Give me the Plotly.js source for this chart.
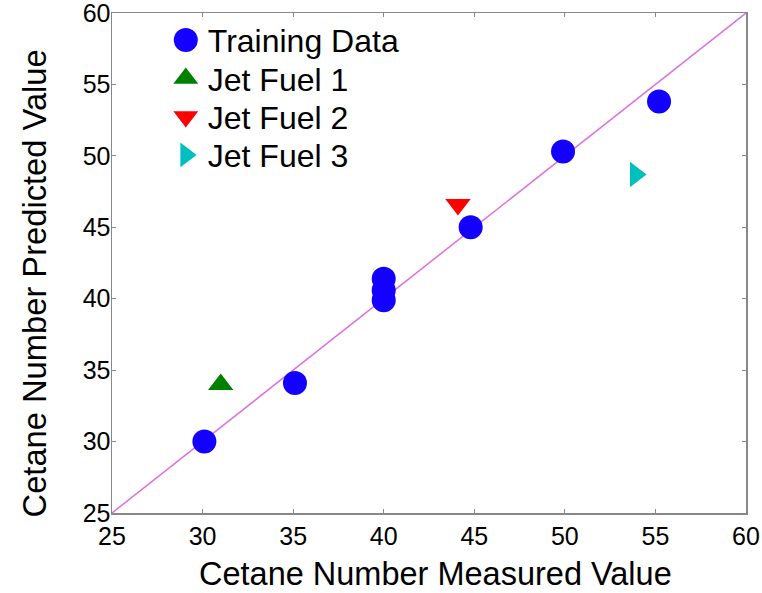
<!DOCTYPE html>
<html>
<head>
<meta charset="utf-8">
<script src="https://cdn.plot.ly/plotly-3.0.1.min.js"></script>
<style>html,body{margin:0;padding:0;background:#fff;}#chart{width:762px;height:593px;}</style>
</head>
<body>
<div id="chart"></div>
<script>
const trainX = [30.1, 35.1, 40.0, 40.0, 40.0, 44.8, 49.9, 55.2];
const trainY = [30.0, 34.1, 39.9, 40.6, 41.4, 45.0, 50.3, 53.8];
const jet1X = [31.0], jet1Y = [34.0];
const jet2X = [44.1], jet2Y = [46.6];
const jet3X = [53.9], jet3Y = [48.7];
const lineX = [25, 60], lineY = [25, 60];

const data = [
  {x: lineX, y: lineY, mode: 'lines', line: {color: '#dd70dd', width: 1.5}, showlegend: false, hoverinfo: 'skip'},
  {x: trainX, y: trainY, mode: 'markers', name: 'Training Data', marker: {symbol: 'circle', size: 24, color: '#1400ff'}},
  {x: jet1X, y: jet1Y, mode: 'markers', name: 'Jet Fuel 1', marker: {symbol: 'triangle-up', size: 22, color: '#008000'}},
  {x: jet2X, y: jet2Y, mode: 'markers', name: 'Jet Fuel 2', marker: {symbol: 'triangle-down', size: 22, color: '#ff0000'}},
  {x: jet3X, y: jet3Y, mode: 'markers', name: 'Jet Fuel 3', marker: {symbol: 'triangle-right', size: 22, color: '#00bfbf'}}
];

const FONT = 'Liberation Sans, Arial, sans-serif';
const axisCommon = {
  range: [25, 60], dtick: 5, tick0: 25, showgrid: false, zeroline: false,
  showline: true, linecolor: '#888', linewidth: 1.5, mirror: 'ticks',
  ticks: 'inside', ticklen: 4, tickcolor: '#888', tickwidth: 1,
  ticklabeloverflow: 'allow',
  tickfont: {family: FONT, size: 25, color: '#000'}
};

const layout = {
  width: 762, height: 593,
  margin: {l: 112, r: 16, t: 13, b: 80},
  paper_bgcolor: '#fff', plot_bgcolor: '#fff',
  font: {family: FONT, color: '#000'},
  xaxis: Object.assign({}, axisCommon, {ticklabelstandoff: 0}),
  yaxis: Object.assign({}, axisCommon, {ticklabelstandoff: -5}),
  annotations: [{
    text: 'Cetane Number Predicted Value', textangle: -90, showarrow: false,
    xref: 'paper', yref: 'paper', x: -0.1215, y: 0.459, xanchor: 'center', yanchor: 'middle',
    font: {family: FONT, size: 32.7, color: '#000'}
  }, {
    text: 'Cetane Number Measured Value', showarrow: false,
    xref: 'paper', yref: 'paper', x: 0.511, y: -0.121, xanchor: 'center', yanchor: 'middle',
    font: {family: FONT, size: 32.5, color: '#000'}
  }],
  legend: {x: 0.088, y: 1.0, xanchor: 'left', yanchor: 'top', bgcolor: 'rgba(0,0,0,0)', font: {size: 32}, itemsizing: 'constant'}
};

const legendScale = [2.0, 1.8, 1.8, 1.8];
function tweakLegend(gd) {
  const traces = gd.querySelectorAll('.legend .traces');
  traces.forEach(function (t, i) {
    t.setAttribute('transform', 'translate(0,' + (i * 38.3 + 27) + ')');
    const s = legendScale[i] || 2;
    t.querySelectorAll('.legendpoints').forEach(function (g) {
      g.setAttribute('transform', 'translate(18,0) scale(' + s + ') translate(-20,0)');
    });
  });
}

const gdEl = document.getElementById('chart');
Plotly.newPlot(gdEl, data, layout, {displayModeBar: false, staticPlot: true}).then(function (gd) {
  tweakLegend(gd);
  gd.on('plotly_afterplot', function () { tweakLegend(gd); });
});
</script>
</body>
</html>
